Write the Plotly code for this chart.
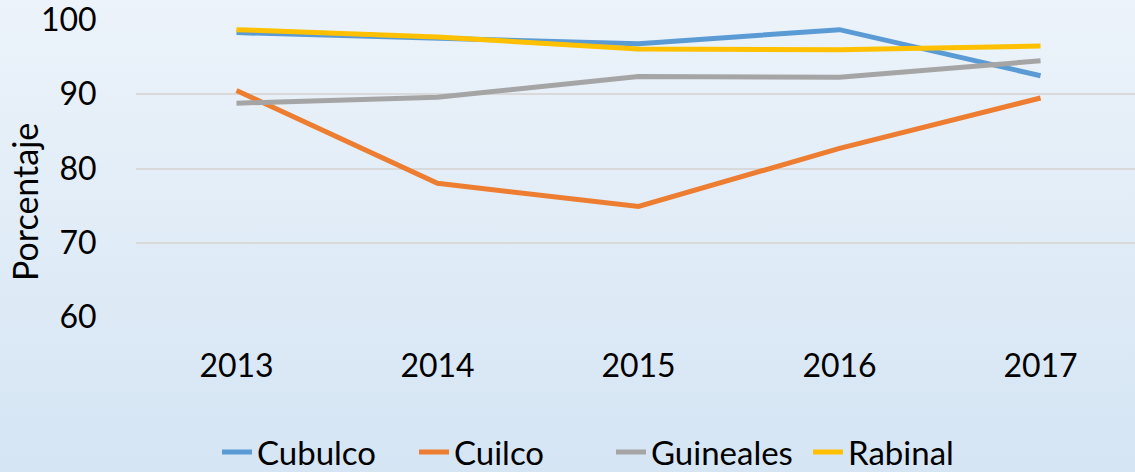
import plotly.graph_objects as go
import base64

years = ["2013", "2014", "2015", "2016", "2017"]
cubulco = [98.3, 97.5, 96.8, 98.7, 92.5]
cuilco = [90.5, 78.0, 74.9, 82.7, 89.5]
guineales = [88.8, 89.6, 92.4, 92.3, 94.5]
rabinal = [98.7, 97.7, 96.1, 96.0, 96.5]

series = [
    ("Cubulco", cubulco, "#5B9BD5"),
    ("Cuilco", cuilco, "#ED7D31"),
    ("Guineales", guineales, "#A5A5A5"),
    ("Rabinal", rabinal, "#FFC000"),
]

W, H = 1135, 472
L, R, T, B = 136, 0, 20, 155
PW, PH = W - L - R, H - T - B

fig = go.Figure()
for name, vals, col in series:
    fig.add_trace(go.Scatter(x=years, y=vals, name=name, mode="lines",
                             line=dict(color=col, width=5)))

svg = ('<svg xmlns="http://www.w3.org/2000/svg" width="%d" height="%d" preserveAspectRatio="none">'
       '<defs><linearGradient id="g" x1="0" y1="0" x2="0" y2="1">'
       '<stop offset="0" stop-color="#ECF3FA"/><stop offset="1" stop-color="#D5E5F4"/>'
       '</linearGradient></defs><rect width="100%%" height="100%%" fill="url(#g)"/></svg>') % (W, H)
src = "data:image/svg+xml;base64," + base64.b64encode(svg.encode()).decode()

fig.add_layout_image(dict(source=src, xref="paper", yref="paper",
                          x=-L / PW, y=1 + T / PH, sizex=W / PW, sizey=H / PH,
                          xanchor="left", yanchor="top", sizing="stretch", layer="below"))

fig.add_annotation(text="Porcentaje", textangle=-90, xref="paper", yref="paper",
                   x=(24 - L) / PW, y=(PH + T - 202) / PH, xanchor="center", yanchor="middle",
                   showarrow=False, font=dict(size=34))

font = "Lato, 'Open Sans', sans-serif"
fig.update_layout(
    width=W, height=H,
    margin=dict(l=L, r=R, t=T, b=B, autoexpand=False),
    paper_bgcolor="#E2EDF8",
    plot_bgcolor="rgba(0,0,0,0)",
    font=dict(family=font, size=32, color="#000000"),
    showlegend=True,
    legend=dict(orientation="h", x=(217 - L) / PW, xanchor="left", y=-0.455, yanchor="middle",
                font=dict(size=33), bgcolor="rgba(0,0,0,0)", itemwidth=30,
                entrywidth=152, entrywidthmode="pixels", tracegroupgap=0),
    xaxis=dict(type="category", range=[-0.5, 4.47], showgrid=False, zeroline=False,
               showline=False, ticks="outside", ticklen=21, tickcolor="rgba(0,0,0,0)",
               tickfont=dict(size=32), automargin=False),
    yaxis=dict(range=[60, 100], dtick=10, showgrid=True, gridcolor="#D9D9D9", gridwidth=1.5,
               zeroline=False, showline=False, ticks="outside", ticklen=32,
               tickcolor="rgba(0,0,0,0)", tickfont=dict(size=32), automargin=False,
               ticklabeloverflow="allow"),
)

fig.write_html("out.html", config={"displayModeBar": False},
               post_script="document.body.style.margin='0';document.body.style.overflow='hidden';")
